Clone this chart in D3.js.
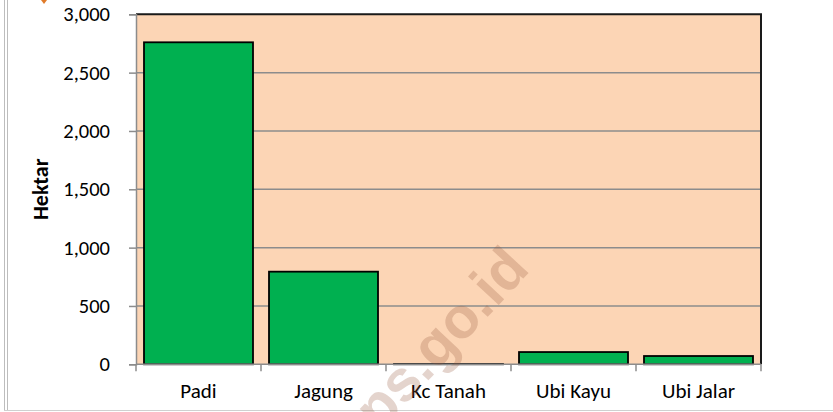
<!DOCTYPE html>
<html>
<head>
<meta charset="utf-8">
<script src="https://cdn.jsdelivr.net/npm/d3@7"></script>
<style>
  html, body { margin: 0; padding: 0; background: #fff; }
  svg { display: block; font-family: Carlito, Lato, "Open Sans", sans-serif; }
</style>
</head>
<body>
<svg id="chart"></svg>
<script>
// Data
const categories = ['Padi', 'Jagung', 'Kc Tanah', 'Ubi Kayu', 'Ubi Jalar'];
const hektar = [2760, 794, 3, 105, 71];
const yTicks = [0, 500, 1000, 1500, 2000, 2500, 3000];
const yLabel = 'Hektar';

const width = 833, height = 412;
const plot = { left: 136, right: 761, top: 14.3, bottom: 364.3 };

const svg = d3.select('#chart')
  .attr('width', width)
  .attr('height', height);

// Outer chart frame (left double line + bottom line)
svg.append('line').attr('x1', 4.5).attr('x2', 4.5).attr('y1', 0).attr('y2', 411)
  .attr('stroke', '#bdbdbd').attr('stroke-width', 1);
svg.append('line').attr('x1', 7.5).attr('x2', 7.5).attr('y1', 0).attr('y2', 411)
  .attr('stroke', '#bdbdbd').attr('stroke-width', 1);
svg.append('line').attr('x1', 4).attr('x2', 833).attr('y1', 410.5).attr('y2', 410.5)
  .attr('stroke', '#d0d0d0').attr('stroke-width', 1);

// small orange marker at top left
svg.append('path').attr('d', 'M41,0 L47,0 L44,4 Z').attr('fill', '#e07b2a');

const x = d3.scaleBand()
  .domain(categories)
  .range([plot.left, plot.right])
  .paddingInner(0.128)
  .paddingOuter(0.064);

const y = d3.scaleLinear()
  .domain([0, 3000])
  .range([plot.bottom, plot.top]);

// Plot background
svg.append('rect')
  .attr('x', plot.left).attr('y', plot.top)
  .attr('width', plot.right - plot.left)
  .attr('height', plot.bottom - plot.top)
  .attr('fill', '#FCD5B5');

// Gridlines
svg.append('g')
  .selectAll('line')
  .data(yTicks.filter(d => d > 0 && d < 3000))
  .join('line')
  .attr('x1', plot.left).attr('x2', plot.right)
  .attr('y1', d => y(d)).attr('y2', d => y(d))
  .attr('stroke', '#8c8c8c').attr('stroke-width', 1.5);

// Plot border top/right (black)
svg.append('path')
  .attr('d', `M${plot.left},${plot.top} L${plot.right},${plot.top} L${plot.right},${plot.bottom}`)
  .attr('fill', 'none').attr('stroke', '#1a1a1a').attr('stroke-width', 2);

// Bars
svg.append('g')
  .selectAll('rect')
  .data(categories.map((c, i) => ({ c, v: hektar[i] })))
  .join('rect')
  .attr('x', d => x(d.c))
  .attr('y', d => y(d.v))
  .attr('width', x.bandwidth())
  .attr('height', d => y(0) - y(d.v))
  .attr('fill', '#00B050')
  .attr('stroke', '#000')
  .attr('stroke-width', 1.8);

// Y axis
const yAxis = svg.append('g')
  .attr('transform', `translate(${plot.left},0)`)
  .call(d3.axisLeft(y).tickValues(yTicks).tickSize(7).tickPadding(19)
    .tickFormat(d3.format(',')));
yAxis.select('.domain').attr('stroke', '#8c8c8c').attr('stroke-width', 1.5);
yAxis.selectAll('.tick line').attr('stroke', '#8c8c8c').attr('stroke-width', 1.5);
yAxis.selectAll('.tick text')
  .attr('font-size', 20.5).attr('fill', '#000')
  .attr('font-family', 'Carlito, Lato, sans-serif');

// X axis with ticks at category boundaries
const xAxisG = svg.append('g')
  .attr('transform', `translate(0,${plot.bottom})`);
xAxisG.append('line')
  .attr('x1', plot.left).attr('x2', plot.right)
  .attr('stroke', '#8c8c8c').attr('stroke-width', 1.5);
const step = x.step();
const boundaries = d3.range(categories.length + 1).map(i => x(categories[0]) - x.paddingOuter() * step + i * step);
xAxisG.selectAll('.bt')
  .data(boundaries)
  .join('line')
  .attr('class', 'bt')
  .attr('x1', d => d).attr('x2', d => d)
  .attr('y1', 0).attr('y2', 7)
  .attr('stroke', '#8c8c8c').attr('stroke-width', 1.5);
xAxisG.selectAll('.lbl')
  .data(categories)
  .join('text')
  .attr('class', 'lbl')
  .attr('x', d => x(d) + x.bandwidth() / 2)
  .attr('y', 34)
  .attr('text-anchor', 'middle')
  .attr('font-size', 21)
  .attr('fill', '#000')
  .text(d => d);

// Y axis title
svg.append('text')
  .attr('transform', `translate(48,${(plot.top + plot.bottom) / 2}) rotate(-90)`)
  .attr('text-anchor', 'middle')
  .attr('font-size', 22)
  .attr('font-weight', 'bold')
  .attr('fill', '#000')
  .text(yLabel);

// Watermark
svg.append('text')
  .attr('transform', 'translate(432,354) rotate(-47)')
  .attr('text-anchor', 'middle')
  .attr('dominant-baseline', 'middle')
  .attr('font-family', '"Liberation Sans", Arial, sans-serif')
  .attr('font-weight', 'bold')
  .attr('font-size', 58)
  .attr('fill', 'rgba(150,90,60,0.26)')
  .text('bps.go.id');
</script>
</body>
</html>
